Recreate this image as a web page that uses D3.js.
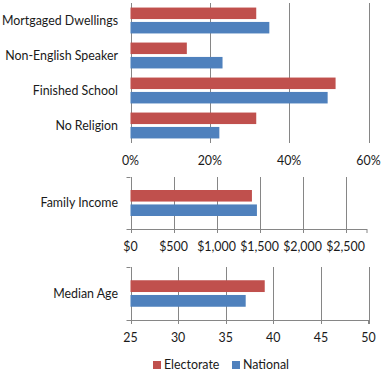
<!DOCTYPE html>
<html>
<head>
<meta charset="utf-8">
<script src="https://cdn.jsdelivr.net/npm/d3@7"></script>
<style>
  body { margin: 0; background: #fff; }
  text { font-family: Lato, "Open Sans", sans-serif; font-size: 12.4px; fill: #1a1a1a; }
</style>
</head>
<body>
<div id="chart"></div>
<script>
// series names and colours
var seriesNames = ["Electorate", "National"];
var seriesColors = ["#C0504D", "#4F81BD"];

// percentage panel
var pctCategories = ["Mortgaged Dwellings", "Non-English Speaker", "Finished School", "No Religion"];
var pctElectorate = [31.7, 14.2, 51.7, 31.7];
var pctNational = [35.0, 23.2, 49.7, 22.4];
var pctTicks = [0, 20, 40, 60];

// income panel
var incomeCategories = ["Family Income"];
var incomeElectorate = [1412];
var incomeNational = [1470];
var incomeTicks = [0, 500, 1000, 1500, 2000, 2500];

// age panel
var ageCategories = ["Median Age"];
var ageElectorate = [39.1];
var ageNational = [37.1];
var ageTicks = [25, 30, 35, 40, 45, 50];

var W = 385, H = 374;
var svg = d3.select("#chart").append("svg")
  .attr("width", W).attr("height", H);

var left = 130.5, right = 368.5;
var grid = "#868686";

function panel(cfg) {
  var g = svg.append("g");
  var x = d3.scaleLinear().domain(cfg.domain).range([left, cfg.rightEdge || right]);
  var y = d3.scaleBand().domain(cfg.cats).range([cfg.top, cfg.bottom])
    .paddingInner(0.26).paddingOuter(cfg.outer);
  var inner = d3.scaleBand().domain(seriesNames).range([0, y.bandwidth()]).paddingInner(0.2);

  // gridlines
  g.selectAll(".grid").data(cfg.ticks).enter().append("line")
    .attr("x1", d => Math.round(x(d)) + 0.5).attr("x2", d => Math.round(x(d)) + 0.5)
    .attr("y1", cfg.top).attr("y2", cfg.bottom + (cfg.axisLine ? 4 : 0))
    .attr("stroke", grid).attr("stroke-width", 1);

  if (cfg.axisLine) {
    g.append("line")
      .attr("x1", left - 4).attr("x2", cfg.rightEdge || right)
      .attr("y1", cfg.bottom + 0.5).attr("y2", cfg.bottom + 0.5)
      .attr("stroke", grid);
    g.append("line")
      .attr("x1", left - 4).attr("x2", left)
      .attr("y1", cfg.top + 0.5).attr("y2", cfg.top + 0.5)
      .attr("stroke", grid);
    g.append("line")
      .attr("x1", (cfg.rightEdge || right)).attr("x2", (cfg.rightEdge || right))
      .attr("y1", cfg.bottom).attr("y2", cfg.bottom + 4)
      .attr("stroke", grid);
  }

  var rows = cfg.cats.map((c, i) => ({cat: c, vals: [cfg.a[i], cfg.b[i]]}));
  var row = g.selectAll(".row").data(rows).enter().append("g")
    .attr("transform", d => "translate(0," + y(d.cat) + ")");
  row.selectAll("rect").data(d => d.vals.map((v, j) => ({v: v, s: seriesNames[j], c: seriesColors[j]})))
    .enter().append("rect")
    .attr("x", left)
    .attr("y", d => inner(d.s))
    .attr("width", d => x(d.v) - left)
    .attr("height", inner.bandwidth())
    .attr("fill", d => d.c);

  g.selectAll(".cat").data(cfg.cats).enter().append("text")
    .attr("x", 118)
    .attr("y", d => y(d) + y.bandwidth() / 2)
    .attr("dy", "0.35em")
    .attr("text-anchor", "end")
    .text(d => d);

  g.selectAll(".tick").data(cfg.ticks).enter().append("text")
    .attr("x", d => x(d))
    .attr("y", cfg.bottom + 18)
    .attr("dy", "0.35em")
    .attr("text-anchor", "middle")
    .text(cfg.fmt);
}

panel({cats: pctCategories, a: pctElectorate, b: pctNational, ticks: pctTicks,
  domain: [0, 60], top: 3, bottom: 143, outer: 0.13, axisLine: false,
  fmt: d => d + "%"});

panel({cats: incomeCategories, a: incomeElectorate, b: incomeNational, ticks: incomeTicks,
  domain: [0, 2750], top: 177, bottom: 229, outer: 0.37, axisLine: true, rightEdge: 367,
  fmt: d => "$" + d3.format(",")(d)});

panel({cats: ageCategories, a: ageElectorate, b: ageNational, ticks: ageTicks,
  domain: [25, 50], top: 267, bottom: 320, outer: 0.37, axisLine: true,
  fmt: d => d});

// legend
var legendX = [153, 232];
var legend = svg.selectAll(".legend").data(seriesNames).enter().append("g")
  .attr("transform", (d, i) => "translate(" + legendX[i] + ",361)");
legend.append("rect").attr("width", 8).attr("height", 8)
  .attr("fill", (d, i) => seriesColors[i]);
legend.append("text").attr("x", 11).attr("y", 4).attr("dy", "0.35em").text(d => d);
</script>
</body>
</html>
